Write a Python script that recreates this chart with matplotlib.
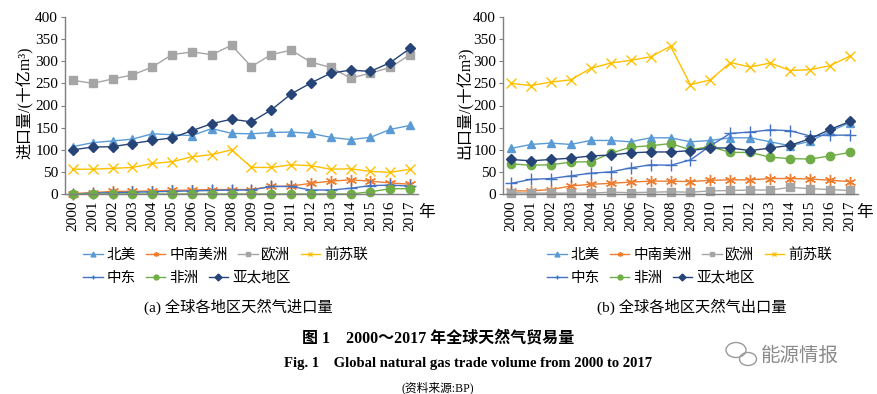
import matplotlib
matplotlib.use("Agg")
import matplotlib.pyplot as plt
from matplotlib.lines import Line2D
from matplotlib.patches import Ellipse

plt.rcParams['font.family'] = ['Liberation Serif', 'Noto Sans CJK SC']

years = list(range(2000, 2018))
year_labels = [str(y) for y in years]
regions = ['北美', '中南美洲', '欧洲', '前苏联', '中东', '非洲', '亚太地区']

# Imports (十亿 m3)
imp_north_america = [107, 116, 120, 124, 136, 134, 132, 148, 137, 136, 139, 140, 137, 128, 123, 128, 146, 155]
imp_csa = [1, 3, 6, 6, 7, 8, 9, 10, 10, 10, 17, 18, 24, 29, 32, 29, 25, 22]
imp_europe = [257, 250, 260, 269, 287, 315, 321, 315, 336, 288, 315, 325, 298, 286, 262, 273, 286, 315]
imp_fsu = [56, 56, 58, 60, 69, 73, 84, 89, 100, 60, 60, 66, 64, 56, 57, 51, 49, 56]
imp_middle_east = [0, 2, 3, 4, 5, 6, 7, 8, 9, 9, 17, 17, 9, 9, 13, 19, 20, 18]
imp_africa = [0, 0, 0, 0, 0, 0, 0, 0, 0, 0, 0, 0, 0, 0, 0, 5, 12, 12]
imp_asia_pacific = [100, 106, 107, 114, 121, 127, 143, 159, 169, 163, 190, 226, 251, 273, 280, 277, 297, 329]

# Exports (十亿 m3)
exp_north_america = [103, 112, 115, 112, 121, 121, 118, 127, 127, 118, 121, 127, 127, 118, 109, 119, 142, 161]
exp_csa = [7, 7, 10, 18, 22, 24, 27, 29, 29, 28, 31, 32, 32, 35, 35, 34, 31, 28]
exp_europe = [3, 2, 2, 2, 2, 4, 3, 4, 5, 4, 7, 8, 9, 9, 15, 12, 10, 8]
exp_fsu = [250, 245, 253, 258, 284, 296, 302, 310, 334, 247, 258, 297, 287, 296, 279, 281, 290, 312]
exp_middle_east = [24, 33, 35, 41, 47, 50, 59, 66, 65, 77, 109, 137, 140, 145, 143, 131, 133, 133]
exp_africa = [68, 65, 66, 72, 73, 92, 106, 109, 114, 100, 107, 94, 94, 83, 80, 79, 86, 94]
exp_asia_pacific = [78, 75, 78, 81, 86, 88, 93, 95, 95, 98, 104, 104, 98, 104, 110, 125, 146, 164]

imports = [imp_north_america, imp_csa, imp_europe, imp_fsu, imp_middle_east, imp_africa, imp_asia_pacific]
exports = [exp_north_america, exp_csa, exp_europe, exp_fsu, exp_middle_east, exp_africa, exp_asia_pacific]

colors = ['#5B9BD5', '#ED7D31', '#A5A5A5', '#FFC000', '#4472C4', '#70AD47', '#264478']
markers = ['^', (6, 2, 0), 's', 'x', '+', 'o', 'D']
msizes = [6, 8, 6, 7, 8, 6, 5]

W, H = 877, 394
fig = plt.figure(figsize=(W / 100, H / 100), dpi=100)
fig.patch.set_facecolor('white')

def px(x, y):
    return x / W, 1 - y / H

axes_specs = [
    (65, 418, imports, '进口量/(十亿m³)', 25, '(a) 全球各地区天然气进口量', 238, 427, 83),
    (503, 858, exports, '出口量/(十亿m³)', 465, '(b) 全球各地区天然气出口量', 692, 865, 547),
]
top, bottom = 17, 194
spine_color = '#7f7f7f'
for (x0, x1, data, ylab, ylx, sub, subx, nianx, legx) in axes_specs:
    ax = fig.add_axes([x0 / W, 1 - bottom / H, (x1 - x0) / W, (bottom - top) / H])
    handles = []
    for series, c, m, ms, name in zip(data, colors, markers, msizes, regions):
        ax.plot(years, series, color=c, marker=m, markersize=ms, linewidth=1.0,
                markeredgecolor=c, markerfacecolor=c, markeredgewidth=1.0, clip_on=False)
        handles.append(Line2D([0], [0], color=c, marker=m, markersize=3.5, linewidth=1.0,
                              markeredgecolor=c, markerfacecolor=c, label=name))
    ax.set_xlim(1999.6, 2017.4)
    ax.set_ylim(0, 400)
    ax.set_yticks(range(0, 401, 50))
    ax.set_xticks(years)
    ax.set_xticklabels(year_labels, rotation=90, fontsize=11)
    ax.tick_params(axis='y', labelsize=11, length=3, color=spine_color, pad=2)
    ax.tick_params(axis='x', length=0, pad=5)
    for s in ['top', 'right']:
        ax.spines[s].set_visible(False)
    for s in ['left', 'bottom']:
        ax.spines[s].set_color(spine_color)
        ax.spines[s].set_linewidth(1.0)
    ax.set_facecolor('none')

    fig.text(*px(ylx, 103), ylab, rotation=90, ha='center', va='center', fontsize=11.5)
    fig.text(*px(nianx, 213), '年', ha='center', va='center', fontsize=12)

    leg_kw = dict(frameon=False, handlelength=1.35, handletextpad=0.25,
                  columnspacing=0.7, borderpad=0, borderaxespad=0, loc='center left',
                  bbox_transform=fig.transFigure,
                  prop={'family': ['Noto Sans CJK SC'], 'size': 10.5})
    fig.legend(handles=handles[:4], ncol=4, bbox_to_anchor=px(legx, 255), **leg_kw)
    fig.legend(handles=handles[4:], ncol=3, bbox_to_anchor=px(legx, 278), **leg_kw)

    fig.text(*px(subx, 307), sub, ha='center', va='center', fontsize=11)

fig.text(*px(438, 338), '图 1    2000～2017 年全球天然气贸易量', ha='center', va='center',
         fontsize=11.5, fontweight='bold')
fig.text(*px(468, 364), 'Fig. 1    Global natural gas trade volume from 2000 to 2017',
         ha='center', va='center', fontsize=10.5, fontweight='bold')
fig.text(*px(438, 388), '(资料来源:BP)', ha='center', va='center', fontsize=8.5)
fig.text(*px(800, 355), '能源情报', ha='center', va='center', fontsize=14,
         color='#8a8a8a', family=['Noto Sans CJK SC'])
# WeChat-like watermark icon
for (cx, cy, w, h) in [(736, 350, 20, 15), (748, 359, 17, 13)]:
    fig.add_artist(Ellipse(px(cx, cy), w / W, h / H, transform=fig.transFigure,
                           fill=False, edgecolor='#9a9a9a', linewidth=1.0))

fig.savefig('out.png', dpi=100, facecolor='white')
